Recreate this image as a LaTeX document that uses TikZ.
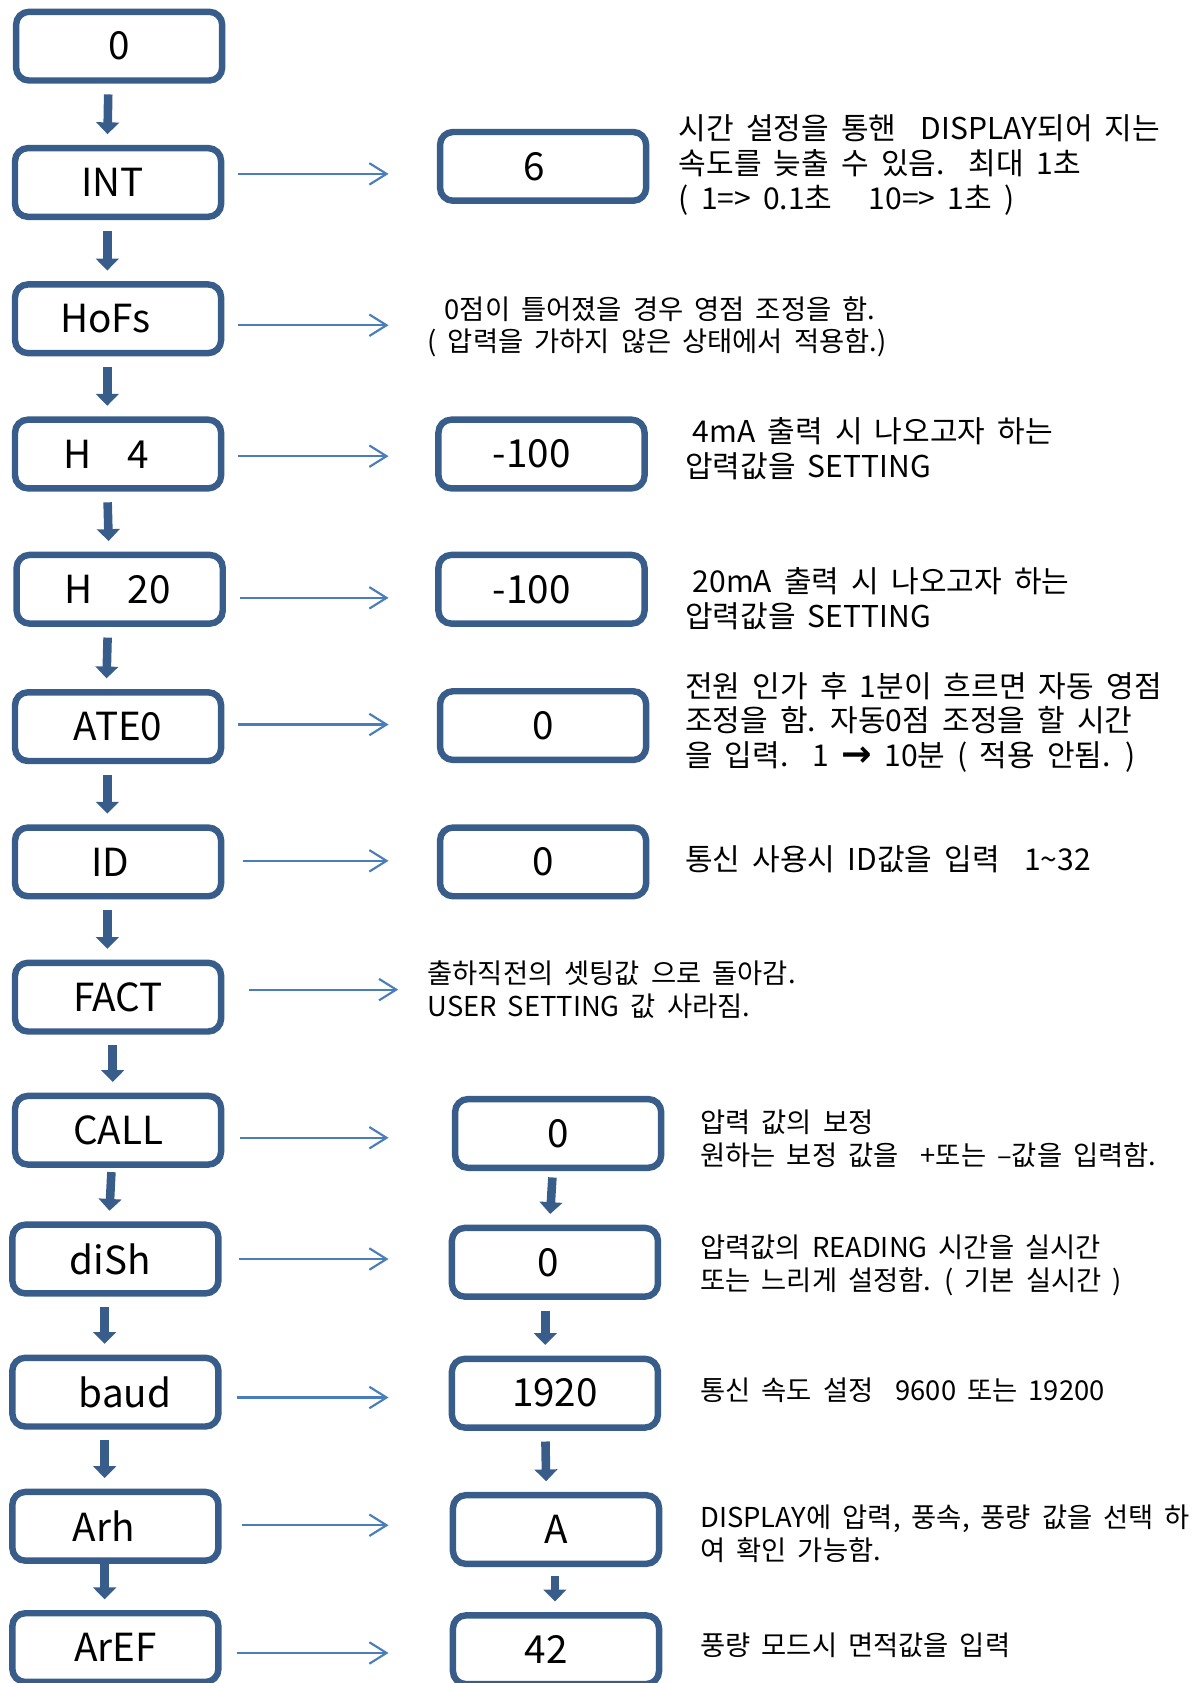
\documentclass[tikz,border=0pt]{standalone}
\usepackage{fontspec}
\setmainfont{Noto Sans CJK KR}[WordSpace=1.8]
\newfontfamily\arrowfont{DejaVu Sans}
\usetikzlibrary{arrows.meta,calc}
\definecolor{boxblue}{RGB}{56,93,138}
\definecolor{lineblue}{RGB}{74,126,187}

\begin{document}
\begin{tikzpicture}[x=0.5pt,y=-0.5pt,
    menubox/.style={draw=boxblue, line width=3pt, rounded corners=6pt,
        minimum width=96pt, minimum height=32pt, inner sep=0pt,
        font=\fontsize{18}{18}\selectfont},
    note/.style={anchor=west, align=left, inner sep=0pt,
        font=\fontsize{14}{16.25}\selectfont},
    smallnote/.style={note, font=\fontsize{12.75}{15.25}\selectfont},
    downarr/.style={draw=boxblue, line width=4pt,
        -{Triangle[width=10.5pt,length=5.5pt]}, shorten >=5pt},
    sidearr/.style={draw=lineblue, line width=1pt,
        -{Straight Barb[length=8pt,width=10pt]}}]

    \useasboundingbox (0,0) rectangle (1117,1568);

    % Menu column on the left
    \node[menubox] (n0)    at (111,43)    {0};
    \node[menubox] (nINT)  at (110,170)   {INT\kern5pt};
    \node[menubox] (nHoFs) at (110,297)   {HoFs\kern12pt};
    \node[menubox] (nH4)   at (110,423)   {H\hspace{17pt}4\kern11pt};
    \node[menubox] (nH20)  at (111.5,549) {H\hspace{16.5pt}20\kern2pt};
    \node[menubox] (nATE)  at (110,677)   {ATE0};
    \node[menubox] (nID)   at (110,803)   {ID\kern7pt};
    \node[menubox] (nFACT) at (110,929)   {FACT};
    \node[menubox] (nCALL) at (110,1053)  {CALL};
    \node[menubox] (nDiSh) at (107.5,1173) {diSh\kern5pt};
    \node[menubox] (nBaud) at (107.5,1297) {\kern9pt baud};
    \node[menubox] (nArh)  at (107.5,1422) {Arh\kern11pt};
    \node[menubox] (nArEF) at (107.5,1535) {ArEF};

    % Value column in the middle
    \node[menubox] (v6)    at (506,155)   {6\kern8pt};
    \node[menubox] (vH4)   at (504.5,423) {-100\kern9pt};
    \node[menubox] (vH20)  at (504.5,549) {-100\kern9pt};
    \node[menubox] (vATE)  at (506,676)   {0};
    \node[menubox] (vID)   at (506,803)   {0};
    \node[menubox] (vCALL) at (520,1056)  {0};
    \node[menubox] (vDiSh) at (517,1176)  {0\kern6pt};
    \node[menubox] (vBaud) at (517,1298)  {1920};
    \node[menubox] (vArh)  at (518,1425)  {A};
    \node[menubox] (vArEF) at (518,1537)  {42\kern9pt};

    % Notes on the right
    \node[note] (tINT) at (632,154) {시간 설정을 통핸~~DISPLAY되어 지는\\속도를 늦출 수 있음.~~최대 1초\\( 1=> 0.1초~~~10=> 1초 )};
    \node[smallnote] (tHoFs) at (398,304.5) {\hspace*{8pt}0점이 틀어졌을 경우 영점 조정을 함.\\( 압력을 가하지 않은 상태에서 적용함.)};
    \node[note] (tH4) at (638,418) {\hspace*{3.5pt}4mA 출력 시 나오고자 하는\\압력값을 SETTING};
    \node[note] (tH20) at (638,558) {\hspace*{3.5pt}20mA 출력 시 나오고자 하는\\압력값을 SETTING};
    \node[note] (tATE) at (638,673) {전원 인가 후 1분이 흐르면 자동 영점\\조정을 함. 자동0점 조정을 할 시간\\을 입력.~~1 {\arrowfont\bfseries\fontsize{17}{16}\selectfont →} 10분 ( 적용 안됨. )};
    \node[note] (tID) at (638,801) {통신 사용시 ID값을 입력~~1\textasciitilde32};
    \node[smallnote] (tFACT) at (398,922) {출하직전의 셋팅값 으로 돌아감.\\USER SETTING 값 사라짐.};
    \node[smallnote] (tCALL) at (652,1061) {압력 값의 보정\\원하는 보정 값을~~+또는 –값을 입력함.};
    \node[smallnote] (tDiSh) at (652,1179) {압력값의 READING 시간을 실시간\\또는 느리게 설정함. ( 기본 실시간 )};
    \node[smallnote] (tBaud) at (652,1295) {통신 속도 설정~~9600 또는 19200};
    \node[smallnote] (tArh) at (652,1429) {DISPLAY에 압력, 풍속, 풍량 값을 선택 하\\여 확인 가능함.};
    \node[smallnote] (tArEF) at (652,1533) {풍량 모드시 면적값을 입력};

    % Where the thin arrows stop
    \coordinate (arrend) at (362,0);
    \coordinate (factend) at (371,0);

    % Thick arrows down each column
    \foreach \a/\b/\dx/\s in {n0/nINT/-5/5, nINT/nHoFs/-5/5, nHoFs/nH4/-5/5, nH4/nH20/-5/5,
            nH20/nATE/-5.5/5, nATE/nID/-5/5, nID/nFACT/-5/5, nFACT/nCALL/-2.5/5,
            nCALL/nDiSh/-3/2, nDiSh/nBaud/-5/5, nBaud/nArh/-5/5, nArh/nArEF/-5/0,
            vCALL/vDiSh/-2.5/3, vDiSh/vBaud/-4.5/5, vBaud/vArh/-4.5/5, vArh/vArEF/-0.5/4} {
        \draw[downarr, shorten <=\s pt] ([xshift=\dx pt]\a.south) -- ([xshift=\dx pt]\b.north);
    }

    % Thin arrows from the menu to the right
    \foreach \src/\dx/\dy/\e in {nINT/6.5/4/arrend, nHoFs/6.5/-3/arrend,
            nH4/6.5/-1/arrend, nH20/6.5/-4/arrend, nATE/6.5/1/arrend,
            nID/8.5/0.5/arrend, nFACT/11.5/3.5/factend, nCALL/7.5/-3.5/arrend,
            nDiSh/8/0/arrend, nBaud/7/-2.5/arrend, nArh/9.5/0.5/arrend,
            nArEF/7/-2.5/arrend} {
        \draw[sidearr] ([xshift=\dx pt,yshift=\dy pt]\src.east) -- ([yshift=\dy pt]\src.east -| \e);
    }
\end{tikzpicture}
\end{document}
